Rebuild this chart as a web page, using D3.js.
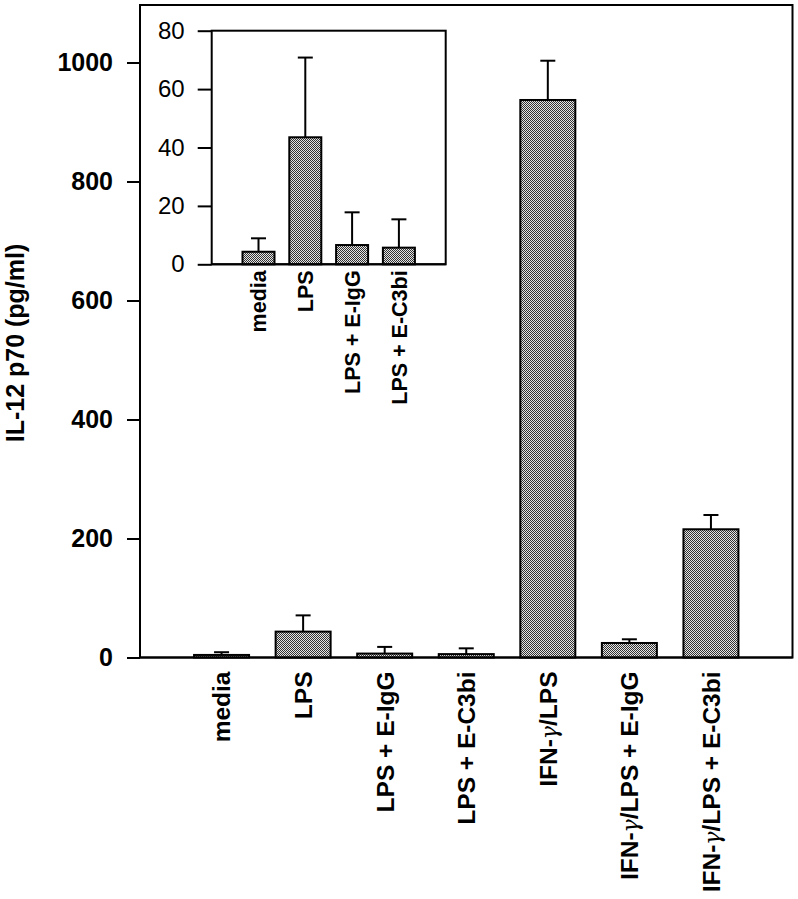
<!DOCTYPE html>
<html>
<head>
<meta charset="utf-8">
<script src="https://cdn.jsdelivr.net/npm/d3@7"></script>
<style>
  body { margin: 0; background: #fff; }
  svg { display: block; }
  text { font-family: "Liberation Sans", Arial, sans-serif; fill: #000; }
</style>
</head>
<body>
<svg id="chart" width="798" height="899"></svg>
<script>
// ---- data ----
const categories = ["media", "LPS", "LPS + E-IgG", "LPS + E-C3bi", "IFN-γ/LPS", "IFN-γ/LPS + E-IgG", "IFN-γ/LPS + E-C3bi"];
const means = [4.3, 43.5, 6.6, 5.7, 937, 24.4, 215.5];
const errors = [4.6, 27.3, 11.2, 9.7, 66, 6.2, 24];
const yTicks = [0, 200, 400, 600, 800, 1000];

const insetCategories = ["media", "LPS", "LPS + E-IgG", "LPS + E-C3bi"];
const insetMeans = [4.3, 43.5, 6.6, 5.7];
const insetErrors = [4.6, 27.3, 11.2, 9.7];
const insetTicks = [0, 20, 40, 60, 80];

const yLabel = "IL-12 p70 (pg/ml)";

// ---- setup ----
const svg = d3.select("#chart");
const defs = svg.append("defs");
const pat = defs.append("pattern").attr("id", "dots")
  .attr("patternUnits", "userSpaceOnUse").attr("width", 2).attr("height", 2);
pat.append("rect").attr("width", 2).attr("height", 2).attr("fill", "#e4e4e4");
pat.append("rect").attr("x", 0).attr("y", 0).attr("width", 1).attr("height", 1).attr("fill", "#333");
pat.append("rect").attr("x", 1).attr("y", 1).attr("width", 1).attr("height", 1).attr("fill", "#333");

function drawPanel(g, cfg) {
  const x = d3.scalePoint().domain(cfg.cats).range([cfg.left, cfg.right]).padding(1);
  const y = d3.scaleLinear().domain(cfg.domain).range(cfg.yRange);

  g.append("rect")
    .attr("x", cfg.left).attr("y", cfg.top)
    .attr("width", cfg.right - cfg.left).attr("height", cfg.bottom - cfg.top)
    .attr("fill", "#fff").attr("stroke", "#000").attr("stroke-width", 2);

  const yAxis = g.append("g").attr("transform", `translate(${cfg.left},0)`)
    .call(d3.axisLeft(y).tickValues(cfg.ticks).tickFormat(d3.format("d"))
      .tickSize(cfg.tickSize).tickPadding(cfg.tickPad));
  yAxis.select(".domain").remove();
  yAxis.selectAll(".tick line").attr("stroke", "#000").attr("stroke-width", 2);
  yAxis.selectAll(".tick text")
    .style("font-family", '"Liberation Sans", Arial, sans-serif')
    .style("font-size", cfg.tickFont + "px")
    .style("font-weight", cfg.tickWeight)
    .attr("fill", "#000");

  const bw = cfg.barWidth;
  const data = cfg.cats.map((c, i) => ({ c, m: cfg.means[i], e: cfg.errs[i] }));

  // error bars (upper only)
  const eb = g.append("g").attr("stroke", "#000").attr("stroke-width", 2);
  eb.selectAll("line.v").data(data).join("line").attr("class", "v")
    .attr("x1", d => x(d.c)).attr("x2", d => x(d.c))
    .attr("y1", d => y(d.m)).attr("y2", d => y(d.m + d.e));
  eb.selectAll("line.cap").data(data).join("line").attr("class", "cap")
    .attr("x1", d => x(d.c) - cfg.cap / 2).attr("x2", d => x(d.c) + cfg.cap / 2)
    .attr("y1", d => y(d.m + d.e)).attr("y2", d => y(d.m + d.e));

  g.append("g").selectAll("rect").data(data).join("rect")
    .attr("x", d => x(d.c) - bw / 2).attr("width", bw)
    .attr("y", d => y(d.m)).attr("height", d => y(0) - y(d.m))
    .attr("fill", "url(#dots)").attr("stroke", "#000").attr("stroke-width", 2);

  g.append("line").attr("x1", cfg.left).attr("x2", cfg.right)
    .attr("y1", cfg.bottom).attr("y2", cfg.bottom)
    .attr("stroke", "#000").attr("stroke-width", 2);

  // category labels (rotated)
  const lab = g.append("g");
  cfg.cats.forEach(c => {
    const t = lab.append("text")
      .attr("transform", `translate(${x(c)},${cfg.bottom + cfg.labelGap}) rotate(-90)`)
      .attr("text-anchor", "end").attr("dy", "0.36em")
      .style("font-size", cfg.labelFont + "px").style("font-weight", "bold");
    const parts = c.split("γ");
    parts.forEach((p, i) => {
      t.append("tspan").text(p);
      if (i < parts.length - 1) {
        t.append("tspan").text("γ")
          .style("font-family", '"DejaVu Serif", serif')
          .style("font-style", "italic").style("font-weight", "normal")
          .style("font-size", (cfg.labelFont * 0.9) + "px");
      }
    });
  });
}

// main chart
drawPanel(svg.append("g"), {
  cats: categories, means, errs: errors, ticks: yTicks,
  domain: [0, 1000], yRange: [657.5, 62.5],
  left: 140, right: 792.5, top: 5, bottom: 657.5,
  tickSize: 13, tickPad: 14, tickFont: 25, tickWeight: "bold",
  barWidth: 55, cap: 15, labelGap: 14, labelFont: 24.5
});

// y-axis title
svg.append("text")
  .attr("transform", "translate(15,343) rotate(-90)")
  .attr("text-anchor", "middle").attr("dy", "0.36em")
  .style("font-size", "25px").style("font-weight", "bold")
  .text(yLabel);

// inset chart
drawPanel(svg.append("g"), {
  cats: insetCategories, means: insetMeans, errs: insetErrors, ticks: insetTicks,
  domain: [0, 80], yRange: [264.3, 30.7],
  left: 211.7, right: 445.7, top: 30.7, bottom: 264.3,
  tickSize: 14, tickPad: 13, tickFont: 24, tickWeight: "normal",
  barWidth: 32, cap: 15, labelGap: 6, labelFont: 21.5
});
</script>
</body>
</html>
